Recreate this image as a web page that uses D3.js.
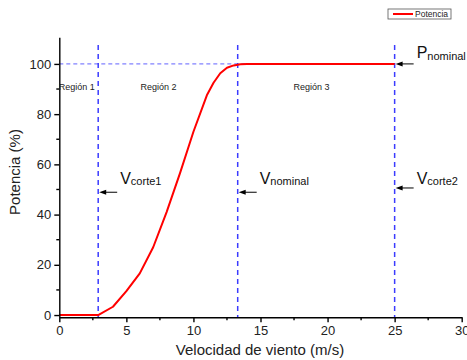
<!DOCTYPE html>
<html>
  <head>
    <meta charset="utf-8" />
    <style>
      body { margin: 0; background: #fff; }
      svg { font-family: "Liberation Sans", Arial, sans-serif; }
      .axis path, .axis line { stroke: #000; stroke-width: 1.4px; }
      .axis text { font-size: 13px; fill: #222; }
    </style>
  </head>
  <body>
    <svg width="467" height="360"></svg>
    <script src="https://d3js.org/d3.v7.min.js"></script>
    <script>
      // data
      const speed = [0, 1, 2, 2.9, 4, 5, 6, 7, 8, 9, 10, 11, 11.5, 12, 12.5, 13, 13.5, 14, 15, 20, 25];
      const power = [0, 0, 0, 0, 3.3, 9.5, 16.6, 27, 41, 56.5, 73, 87.5, 92.5, 96.3, 98.5, 99.4, 99.9, 100, 100, 100, 100];
      const xTicks = [0, 5, 10, 15, 20, 25, 30];
      const yTicks = [0, 20, 40, 60, 80, 100];
      const cutLines = [2.9, 13.3, 25];
      const regions = [
        { name: "Región 1", v: 1.3 },
        { name: "Región 2", v: 7.4 },
        { name: "Región 3", v: 18.8 },
      ];
      // arrow level (p) and label baseline level (tp), in % units
      const markers = [
        { main: "V", sub: "corte1", v: 2.9, p: 48.9, tp: 52.3 },
        { main: "V", sub: "nominal", v: 13.3, p: 48.9, tp: 52.3 },
        { main: "V", sub: "corte2", v: 25, p: 50.6, tp: 52.3 },
        { main: "P", sub: "nominal", v: 25, p: 100, tp: 102.3 },
      ];

      const svg = d3.select("svg");
      const x = d3.scaleLinear().domain([0, 30]).range([59.3, 461.7]);
      const y = d3.scaleLinear().domain([-0.9, 110.6]).range([317.3, 37.3]);

      // dashed guide lines
      const blue = "#3b3bff";
      svg.append("line")
        .attr("x1", x(0)).attr("x2", x(25))
        .attr("y1", y(100)).attr("y2", y(100))
        .attr("stroke", blue).attr("stroke-width", 1).attr("stroke-opacity", 0.8)
        .attr("stroke-dasharray", "4,3");

      svg.selectAll(".cut")
        .data(cutLines)
        .join("line")
        .attr("class", "cut")
        .attr("x1", (d) => x(d)).attr("x2", (d) => x(d))
        .attr("y1", y(107.5)).attr("y2", y(-0.9))
        .attr("stroke", blue).attr("stroke-width", 1.5)
        .attr("stroke-dasharray", "5,4");

      // the curve
      const pts = speed.map((v, i) => [v, power[i]]);
      svg.append("path")
        .datum(pts)
        .attr("fill", "none")
        .attr("stroke", "#ff0000")
        .attr("stroke-width", 2)
        .attr("stroke-linejoin", "round")
        .attr("d", d3.line().x((d) => x(d[0])).y((d) => y(d[1])));

      // axes
      const yAxis = svg.append("g")
        .attr("class", "axis")
        .attr("transform", `translate(${x(0)},0)`)
        .call(d3.axisLeft(y).tickValues(yTicks).tickSize(5).tickSizeOuter(0).tickPadding(3));
      yAxis.selectAll(".minor")
        .data(d3.range(10, 110, 20))
        .join("line")
        .attr("class", "minor")
        .attr("x1", 0).attr("x2", -3)
        .attr("y1", (d) => y(d)).attr("y2", (d) => y(d));

      const xAxis = svg.append("g")
        .attr("class", "axis")
        .attr("transform", `translate(0,${y(-0.9)})`)
        .call(d3.axisBottom(x).tickValues(xTicks).tickSize(5).tickSizeOuter(0).tickPadding(3));
      xAxis.selectAll(".minor")
        .data(d3.range(2.5, 30, 5))
        .join("line")
        .attr("class", "minor")
        .attr("y1", 0).attr("y2", 3)
        .attr("x1", (d) => x(d)).attr("x2", (d) => x(d));

      // axis titles
      svg.append("text")
        .attr("x", 260).attr("y", 355)
        .attr("text-anchor", "middle")
        .attr("font-size", 15).attr("fill", "#222")
        .text("Velocidad de viento (m/s)");
      svg.append("text")
        .attr("transform", "translate(20,172) rotate(-90)")
        .attr("text-anchor", "middle")
        .attr("font-size", 15).attr("fill", "#222")
        .text("Potencia (%)");

      // region labels
      svg.selectAll(".region")
        .data(regions)
        .join("text")
        .attr("class", "region")
        .attr("x", (d) => x(d.v)).attr("y", y(89.5))
        .attr("text-anchor", "middle")
        .attr("font-size", 9).attr("fill", "#222")
        .text((d) => d.name);

      // arrows and labels
      markers.forEach((m) => {
        const x0 = x(m.v);
        const yy = y(m.p);
        svg.append("line")
          .attr("x1", x0 + 7).attr("x2", x0 + 19)
          .attr("y1", yy).attr("y2", yy)
          .attr("stroke", "#000").attr("stroke-width", 1);
        svg.append("path")
          .attr("d", `M${x0 + 1},${yy} L${x0 + 8},${yy - 2.5} L${x0 + 8},${yy + 2.5} Z`)
          .attr("fill", "#000");
        const t = svg.append("text")
          .attr("x", x0 + 22)
          .attr("y", y(m.tp))
          .attr("fill", "#111");
        t.append("tspan").attr("font-size", 16).text(m.main);
        t.append("tspan").attr("font-size", 11).attr("dy", 1.5).text(m.sub);
      });

      // legend
      const leg = svg.append("g").attr("transform", "translate(388,9)");
      leg.append("rect")
        .attr("width", 63).attr("height", 10)
        .attr("fill", "#fff").attr("stroke", "#555").attr("stroke-width", 0.8);
      leg.append("line")
        .attr("x1", 5).attr("x2", 25).attr("y1", 5).attr("y2", 5)
        .attr("stroke", "#ff0000").attr("stroke-width", 2);
      leg.append("text")
        .attr("x", 27).attr("y", 8)
        .attr("font-size", 8.5).attr("fill", "#222")
        .text("Potencia");
    </script>
  </body>
</html>
